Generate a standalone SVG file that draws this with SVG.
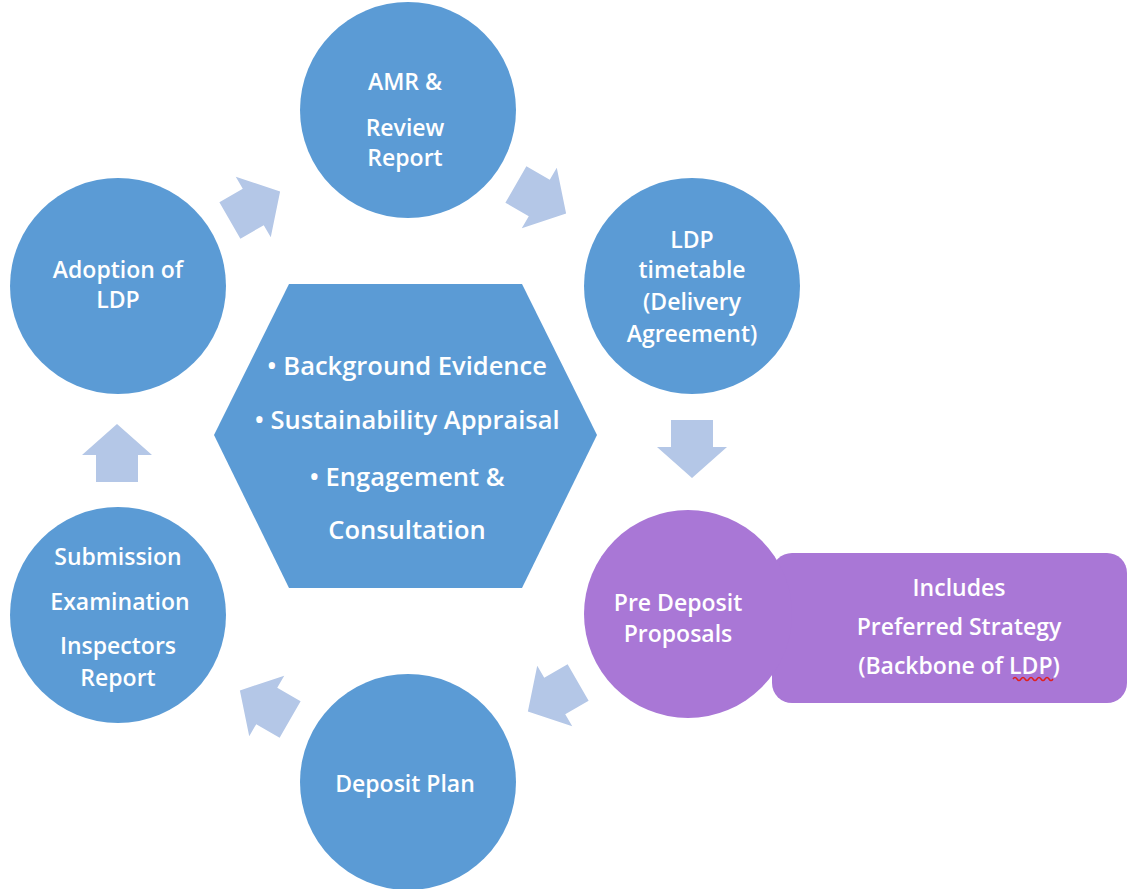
<svg xmlns="http://www.w3.org/2000/svg" width="1129" height="889" viewBox="0 0 1129 889">
<style>
.c{fill:#5B9BD5}
.p{fill:#A977D6}
.a{fill:#B4C7E7}
text{font-family:"Open Sans","Noto Sans","DejaVu Sans",sans-serif;fill:#fff;text-anchor:middle;font-weight:600}
.t{font-size:23px}
.h{font-size:25.5px}
</style>
<defs>
<path id="arr" d="M-29,-21 L-2,-21 L-2,-35 L29,0 L-2,35 L-2,21 L-29,21 Z"/>
</defs>
<rect width="1129" height="889" fill="#fff"/>
<g id="connectors">
<use href="#arr" class="a" transform="translate(255,206) rotate(-30)"/>
<use href="#arr" class="a" transform="translate(541,199) rotate(30)"/>
<use href="#arr" class="a" transform="translate(692,449) rotate(90)"/>
<use href="#arr" class="a" transform="translate(553,697) rotate(150)"/>
<use href="#arr" class="a" transform="translate(265,705) rotate(210)"/>
<use href="#arr" class="a" transform="translate(117,453) rotate(-90)"/>
</g>
<g id="amr">
<circle class="c" cx="408" cy="110" r="108"/>
<text class="t" x="405" y="90">AMR &amp;</text>
<text class="t" x="405" y="136">Review</text>
<text class="t" x="405" y="166">Report</text>
</g>
<g id="timetable">
<circle class="c" cx="692" cy="286" r="108"/>
<text class="t" x="692" y="248">LDP</text>
<text class="t" x="692" y="278">timetable</text>
<text class="t" x="692" y="310">(Delivery</text>
<text class="t" x="692" y="342">Agreement)</text>
</g>
<g id="predeposit">
<rect class="p" x="772" y="553" width="355" height="150" rx="20"/>
<circle class="p" cx="688" cy="614" r="104"/>
<text class="t" x="678" y="611">Pre Deposit</text>
<text class="t" x="678" y="642">Proposals</text>
</g>
<g id="includes">
<text class="t" x="959" y="596">Includes</text>
<text class="t" x="959" y="635">Preferred Strategy</text>
<text class="t" x="959" y="674">(Backbone of LDP)</text>
<path d="M1013,679 q2,-3 4,0 t4,0 t4,0 t4,0 t4,0 t4,0 t4,0 t4,0 t4,0 t4,0" fill="none" stroke="#E02020" stroke-width="1.5"/>
</g>
<g id="deposit">
<circle class="c" cx="408" cy="782" r="108"/>
<text class="t" x="405" y="792">Deposit Plan</text>
</g>
<g id="submission">
<circle class="c" cx="118" cy="615" r="108"/>
<text class="t" x="118" y="565">Submission</text>
<text class="t" x="120" y="610">Examination</text>
<text class="t" x="118" y="654">Inspectors</text>
<text class="t" x="118" y="686">Report</text>
</g>
<g id="adoption">
<circle class="c" cx="118" cy="286" r="108"/>
<text class="t" x="118" y="278">Adoption of</text>
<text class="t" x="118" y="308">LDP</text>
</g>
<g id="hexagon">
<polygon class="c" points="214,435 289,284 522,284 597,435 522,588 289,588"/>
<text class="h" x="407" y="375">• Background Evidence</text>
<text class="h" x="407" y="429">• Sustainability Appraisal</text>
<text class="h" x="407" y="486">• Engagement &amp;</text>
<text class="h" x="407" y="539">Consultation</text>
</g>
</svg>
